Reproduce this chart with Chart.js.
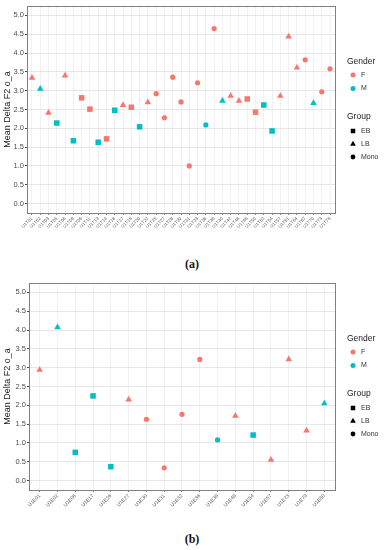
<!DOCTYPE html>
<html>
<head>
<meta charset="utf-8">
<script src="https://cdn.jsdelivr.net/npm/chart.js@4.4.1/dist/chart.umd.min.js"></script>
<style>
  body { margin: 0; background: #fff; width: 384px; height: 550px; position: relative; overflow: hidden; }
  canvas { position: absolute; left: 0; }
  #chartA { top: 0; }
  #chartB { top: 277px; }
  .cap { position: absolute; width: 384px; text-align: center; left: 0;
         font: bold 12px "Liberation Serif", "DejaVu Serif", serif; color: #111; }
</style>
</head>
<body>
<canvas id="chartA" width="384" height="250"></canvas>
<canvas id="chartB" width="384" height="250"></canvas>
<div class="cap" style="top:257px">(a)</div>
<div class="cap" style="top:532px">(b)</div>
<script>
// panel (a)
var labelsA = ['U1T01','U1T02','U1T03','U1T05','U1T06','U1T08','U1T09','U1T11','U1T13','U1T14',
               'U1T16','U1T17','U1T18','U1T20','U1T22','U1T25','U1T27','U1T28','U1T30','U1T31',
               'U1T33','U1T36','U1T38','U1T40','U1T42','U1T46','U1T48','U1T50','U1T52','U1T54',
               'U1T57','U1T61','U1T64','U1T67','U1T70','U1T73','U1T78'];
var valuesA = [3.34, 3.05, 2.41, 2.14, 3.40, 1.67, 2.81, 2.51, 1.63, 1.72,
               2.48, 2.62, 2.56, 2.04, 2.69, 2.92, 2.28, 3.36, 2.70, 1.00,
               3.21, 2.09, 4.65, 2.73, 2.86, 2.73, 2.78, 2.43, 2.62, 1.93,
               2.86, 4.44, 3.61, 3.82, 2.67, 2.97, 3.58];
var genderA = ['F','M','F','M','F','M','F','F','M','F',
               'M','F','F','M','F','F','F','F','F','F',
               'F','M','F','M','F','F','F','F','M','M',
               'F','F','F','F','M','F','F'];
var groupA  = ['LB','LB','LB','EB','LB','EB','EB','EB','EB','EB',
               'EB','LB','EB','EB','LB','Mono','Mono','Mono','Mono','Mono',
               'Mono','Mono','Mono','LB','LB','LB','EB','EB','EB','EB',
               'LB','LB','LB','Mono','LB','Mono','Mono'];

// panel (b)
var labelsB = ['U1E01','U1E02','U1E06','U1E17','U1E26','U1E27','U1E30','U1E31','U1E32',
               'U1E36','U1E38','U1E48','U1E54','U1E57','U1E73','U1E79','U1E80'];
var valuesB = [2.94, 4.07, 0.75, 2.25, 0.37, 2.15, 1.63, 0.34, 1.76,
               3.22, 1.08, 1.72, 1.21, 0.55, 3.22, 1.33, 2.05];
var genderB = ['F','M','M','M','M','F','F','F','F','F','M','F','M','F','F','F','M'];
var groupB  = ['LB','LB','EB','EB','EB','LB','Mono','Mono','Mono','Mono','Mono','LB','EB','LB','LB','LB','LB'];

var yTicks = [0, 0.25, 0.5, 0.75, 1, 1.25, 1.5, 1.75, 2, 2.25, 2.5, 2.75, 3, 3.25, 3.5, 3.75, 4, 4.25, 4.5, 4.75, 5];
var genderKeys = ['F', 'M'];
var groupKeys = ['EB', 'LB', 'Mono'];

var genderColor = { F: '#F8766D', M: '#00BFC4' };
var groupStyle = { EB: 'rect', LB: 'triangle', Mono: 'circle' };
var groupRadius = { EB: 3.9, LB: 3.8, Mono: 2.6 };
var legendRadius = { EB: 3.2, LB: 3.3, Mono: 2.4 };

function isMajor(v) {
    return Math.abs(v * 2 - Math.round(v * 2)) < 1e-6;
}

// panel border + two-part legend (Gender / Group)
var panelLegend = {
    id: 'panelLegend',
    afterDraw: function (chart) {
        var ctx = chart.ctx, a = chart.chartArea;
        ctx.save();
        ctx.strokeStyle = '#808080';
        ctx.lineWidth = 1;
        ctx.strokeRect(Math.round(a.left) + 0.5, Math.round(a.top) + 0.5,
                       Math.round(a.right - a.left), Math.round(a.bottom - a.top));

        var x0 = a.right + 12;
        ctx.textBaseline = 'middle';
        ctx.textAlign = 'left';
        ctx.fillStyle = '#1a1a1a';
        ctx.font = '8.5px "Liberation Sans", Arial, sans-serif';
        ctx.fillText('Gender', x0, 62);
        ctx.fillText('Group', x0, 116.5);

        ctx.font = '7px "Liberation Sans", Arial, sans-serif';
        genderKeys.forEach(function (g, i) {
            var y = 75 + i * 13.5;
            ctx.fillStyle = genderColor[g];
            Chart.helpers.drawPoint(ctx, { pointStyle: 'circle', radius: 2.5, rotation: 0, borderWidth: 0 }, x0 + 6, y);
            ctx.fillStyle = '#333';
            ctx.fillText(g, x0 + 14, y);
        });
        groupKeys.forEach(function (g, i) {
            var y = 131 + i * 13;
            ctx.fillStyle = '#000';
            Chart.helpers.drawPoint(ctx, { pointStyle: groupStyle[g], radius: legendRadius[g], rotation: 0, borderWidth: 0 }, x0 + 6, y);
            ctx.fillStyle = '#333';
            ctx.fillText(g, x0 + 14, y);
        });
        ctx.restore();
    }
};

function makeChart(id, labels, values, gender, group, plotLeft, xFont) {
    var pts = values.map(function (v, i) { return { x: i, y: v }; });
    return new Chart(document.getElementById(id), {
        type: 'scatter',
        data: {
            datasets: [{
                data: pts,
                pointStyle: function (c) { return groupStyle[group[c.dataIndex]]; },
                pointRadius: function (c) { return groupRadius[group[c.dataIndex]]; },
                pointBackgroundColor: function (c) { return genderColor[gender[c.dataIndex]]; },
                pointBorderWidth: 0
            }]
        },
        options: {
            responsive: false,
            animation: false,
            devicePixelRatio: 1,
            events: [],
            layout: { padding: { top: 6, right: 49, left: 0, bottom: 0 } },
            plugins: { legend: { display: false }, tooltip: { enabled: false } },
            scales: {
                x: {
                    type: 'linear',
                    min: -0.6,
                    max: labels.length - 1 + 0.6,
                    afterBuildTicks: function (s) {
                        s.ticks = labels.map(function (l, i) { return { value: i }; });
                    },
                    afterFit: function (s) { s.height = 37; },
                    border: { display: false },
                    grid: { color: '#E8E8E8', lineWidth: 0.6, tickColor: '#333', tickLength: 2 },
                    ticks: {
                        autoSkip: false,
                        minRotation: 45,
                        maxRotation: 45,
                        padding: 1,
                        color: '#5a5a5a',
                        font: { family: '"Liberation Sans", Arial, sans-serif', size: xFont },
                        callback: function (v) { return labels[v]; }
                    }
                },
                y: {
                    min: -0.25,
                    max: 5.25,
                    afterBuildTicks: function (s) {
                        s.ticks = yTicks.map(function (v) { return { value: v }; });
                    },
                    afterFit: function (s) { s.width = plotLeft; },
                    border: { display: false },
                    grid: {
                        color: '#E4E4E4',
                        lineWidth: function (c) { return isMajor(c.tick.value) ? 0.9 : 0.45; },
                        tickColor: function (c) { return isMajor(c.tick.value) ? '#333' : 'rgba(0,0,0,0)'; },
                        tickLength: 2
                    },
                    title: {
                        display: true,
                        text: 'Mean Delta F2 o_a',
                        color: '#1a1a1a',
                        padding: { top: 2, bottom: 0 },
                        font: { family: '"Liberation Sans", Arial, sans-serif', size: 9 }
                    },
                    ticks: {
                        padding: 1,
                        color: '#4D4D4D',
                        font: { family: '"Liberation Sans", Arial, sans-serif', size: 7.5 },
                        callback: function (v) { return isMajor(v) ? v.toFixed(1) : ''; }
                    }
                }
            }
        },
        plugins: [panelLegend]
    });
}

makeChart('chartA', labelsA, valuesA, genderA, groupA, 27, 4.5);
makeChart('chartB', labelsB, valuesB, genderB, groupB, 29, 5);
</script>
</body>
</html>
